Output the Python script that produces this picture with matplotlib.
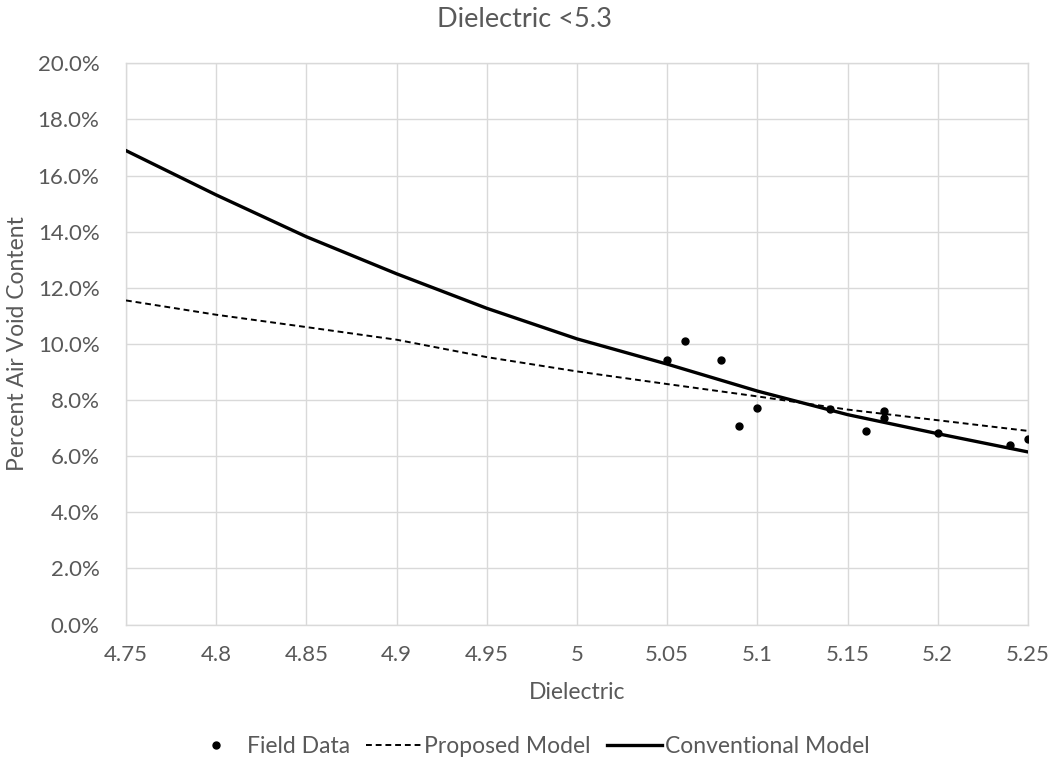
import matplotlib.pyplot as plt
from matplotlib.ticker import FuncFormatter

# field measurements (dielectric, air voids %)
field_x = [5.05, 5.06, 5.08, 5.09, 5.10, 5.14, 5.16, 5.17, 5.17, 5.20, 5.24, 5.25]
field_y = [9.41, 10.09, 9.41, 7.06, 7.73, 7.69, 6.88, 7.62, 7.37, 6.83, 6.39, 6.61]

# model curves
model_x = [4.75, 4.80, 4.85, 4.90, 4.95, 5.00, 5.05, 5.10, 5.15, 5.20, 5.25]
proposed_y = [11.55, 11.04, 10.60, 10.15, 9.53, 9.02, 8.57, 8.13, 7.66, 7.28, 6.90]
conventional_y = [16.89, 15.31, 13.82, 12.50, 11.27, 10.18, 9.28, 8.32, 7.48, 6.80, 6.15]

x_ticks = [4.75, 4.8, 4.85, 4.9, 4.95, 5, 5.05, 5.1, 5.15, 5.2, 5.25]
x_labels = ["4.75", "4.8", "4.85", "4.9", "4.95", "5", "5.05", "5.1", "5.15", "5.2", "5.25"]

grey = "#595959"
plt.rcParams["font.family"] = ["Lato", "DejaVu Sans"]

fig = plt.figure(figsize=(10.55, 7.63), dpi=100)
ax = fig.add_axes([0.1194, 0.1815, 0.8550, 0.7355])

ax.plot(model_x, conventional_y, color="black", lw=2.4, label="Conventional Model", zorder=3)
ax.plot(model_x, proposed_y, color="black", lw=1.4, dashes=(3, 2), label="Proposed Model", zorder=3)
ax.plot(field_x, field_y, "o", color="black", ms=5, label="Field Data", zorder=4)

ax.set_xlim(4.75, 5.25)
ax.set_ylim(0, 20)
ax.set_xticks(x_ticks)
ax.set_xticklabels(x_labels)
ax.set_yticks(range(0, 21, 2))
ax.yaxis.set_major_formatter(FuncFormatter(lambda v, p: f"{v:.1f}%"))

ax.grid(True, color="#d9d9d9", lw=1)
ax.set_axisbelow(True)
for s in ax.spines.values():
    s.set_color("#d9d9d9")
    s.set_linewidth(1)
ax.tick_params(length=0, labelsize=16, colors=grey)
ax.tick_params(axis="x", pad=15)
ax.tick_params(axis="y", pad=19)

# title is centred on the figure, not the axes
fig.text(0.497, 0.974, "Dielectric <5.3", fontsize=19.5, color=grey, ha="center", va="center")
ax.set_xlabel("Dielectric", fontsize=16.5, color=grey, labelpad=12)
ax.set_ylabel("Percent Air Void Content", fontsize=16.5, color=grey)
ax.yaxis.set_label_coords(-0.109, 0.5)

h, l = ax.get_legend_handles_labels()
order = [2, 1, 0]
ax.legend([h[i] for i in order], [l[i] for i in order], loc="center",
          bbox_to_anchor=(0.447, -0.218), ncol=3, frameon=False, fontsize=16.5,
          labelcolor=grey, handlelength=2.4, handletextpad=0.15, columnspacing=0.7)

fig.savefig("out.png", dpi=100)
